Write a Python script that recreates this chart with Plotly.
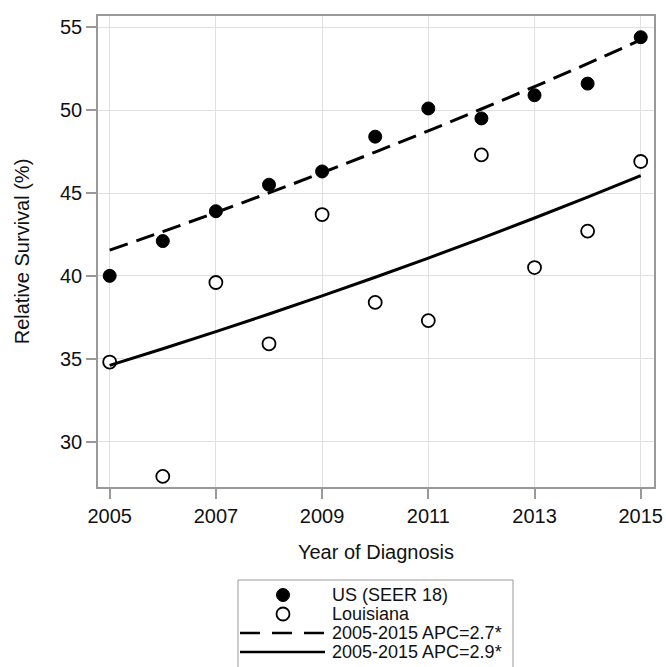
import plotly.graph_objects as go

# Relative survival by year of diagnosis
years = [2005, 2006, 2007, 2008, 2009, 2010, 2011, 2012, 2013, 2014, 2015]
us_survival = [40.0, 42.1, 43.9, 45.5, 46.3, 48.4, 50.1, 49.5, 50.9, 51.6, 54.4]
la_survival = [34.8, 27.9, 39.6, 35.9, 43.7, 38.4, 37.3, 47.3, 40.5, 42.7, 46.9]

# Joinpoint fits: starting level and annual percent change
us_fit_start, us_apc = 41.55, 2.7
la_fit_start, la_apc = 34.6, 2.9

x_ticks = [2005, 2007, 2009, 2011, 2013, 2015]
y_ticks = [30, 35, 40, 45, 50, 55]

# Page geometry (pixels) of the plotting area
W, H = 666, 667
PLOT_L, PLOT_R, PLOT_T, PLOT_B = 98, 654, 16, 487


def px_x(px):
    return (px - PLOT_L) / (PLOT_R - PLOT_L)


def px_y(py):
    return (PLOT_B - py) / (PLOT_B - PLOT_T)


def apc_curve(start, apc):
    return [start * (1 + apc / 100) ** (y - years[0]) for y in years]


fig = go.Figure()
fig.add_trace(go.Scatter(
    x=years, y=us_survival, mode="markers", name="US (SEER 18)",
    marker=dict(size=13, color="black", line=dict(color="black", width=1)),
))
fig.add_trace(go.Scatter(
    x=years, y=la_survival, mode="markers", name="Louisiana",
    marker=dict(size=13, color="white", line=dict(color="black", width=1.8)),
))
fig.add_trace(go.Scatter(
    x=years, y=apc_curve(us_fit_start, us_apc), mode="lines",
    name=f"2005-2015 APC={us_apc}*",
    line=dict(color="black", width=3, dash="19px,9px", shape="spline"),
))
fig.add_trace(go.Scatter(
    x=years, y=apc_curve(la_fit_start, la_apc), mode="lines",
    name=f"2005-2015 APC={la_apc}*",
    line=dict(color="black", width=3, shape="spline"),
))
fig.update_traces(showlegend=False)

# Boxed key below the chart, built from the traces themselves
shapes = [dict(
    type="rect", xref="paper", yref="paper",
    x0=px_x(238), x1=px_x(513), y0=px_y(672), y1=px_y(580),
    line=dict(color="#999999", width=1), fillcolor="white", layer="above",
)]
annotations = []
row_top, row_step = 595, 19
for i, tr in enumerate(fig.data):
    yc = px_y(row_top + row_step * i)
    if tr.mode == "markers":
        r = tr.marker.size / 2
        shapes.append(dict(
            type="circle", xref="paper", yref="paper",
            xsizemode="pixel", ysizemode="pixel",
            xanchor=px_x(283), yanchor=yc, x0=-r, x1=r, y0=-r, y1=r,
            fillcolor=tr.marker.color,
            line=dict(color=tr.marker.line.color, width=tr.marker.line.width),
            layer="above",
        ))
    else:
        shapes.append(dict(
            type="line", xref="paper", yref="paper",
            x0=px_x(240), x1=px_x(325), y0=yc, y1=yc,
            line=dict(color=tr.line.color, width=2.6,
                      dash="20px,12px" if tr.line.dash else "solid"),
            layer="above",
        ))
    annotations.append(dict(
        text=tr.name, xref="paper", yref="paper",
        x=px_x(330), y=yc, xanchor="left", yanchor="middle",
        showarrow=False, font=dict(size=18, color="#111111"),
    ))

axis_common = dict(
    showline=True, linecolor="#999999", linewidth=1.5, mirror=True,
    showgrid=True, gridcolor="#e0e0e0", gridwidth=1.3,
    ticks="outside", ticklen=10, tickcolor="#999999", tickwidth=1.5,
    tickfont=dict(size=20, color="#111111"),
    zeroline=False,
)

fig.update_layout(
    width=W, height=H,
    margin=dict(l=PLOT_L, r=W - PLOT_R, t=PLOT_T, b=H - PLOT_B, autoexpand=False),
    paper_bgcolor="white", plot_bgcolor="white",
    font=dict(family="Liberation Sans, Arial, sans-serif", color="#111111"),
    xaxis=dict(
        range=[2004.78, 2015.25], tickvals=x_ticks,
        title=dict(text="Year of Diagnosis", font=dict(size=20), standoff=19),
        **axis_common,
    ),
    yaxis=dict(
        range=[27.26, 55.68], tickvals=y_ticks,
        title=dict(text="Relative Survival (%)", font=dict(size=20), standoff=25),
        **axis_common,
    ),
    shapes=shapes,
    annotations=annotations,
    showlegend=False,
)

fig.write_html("out.html")
